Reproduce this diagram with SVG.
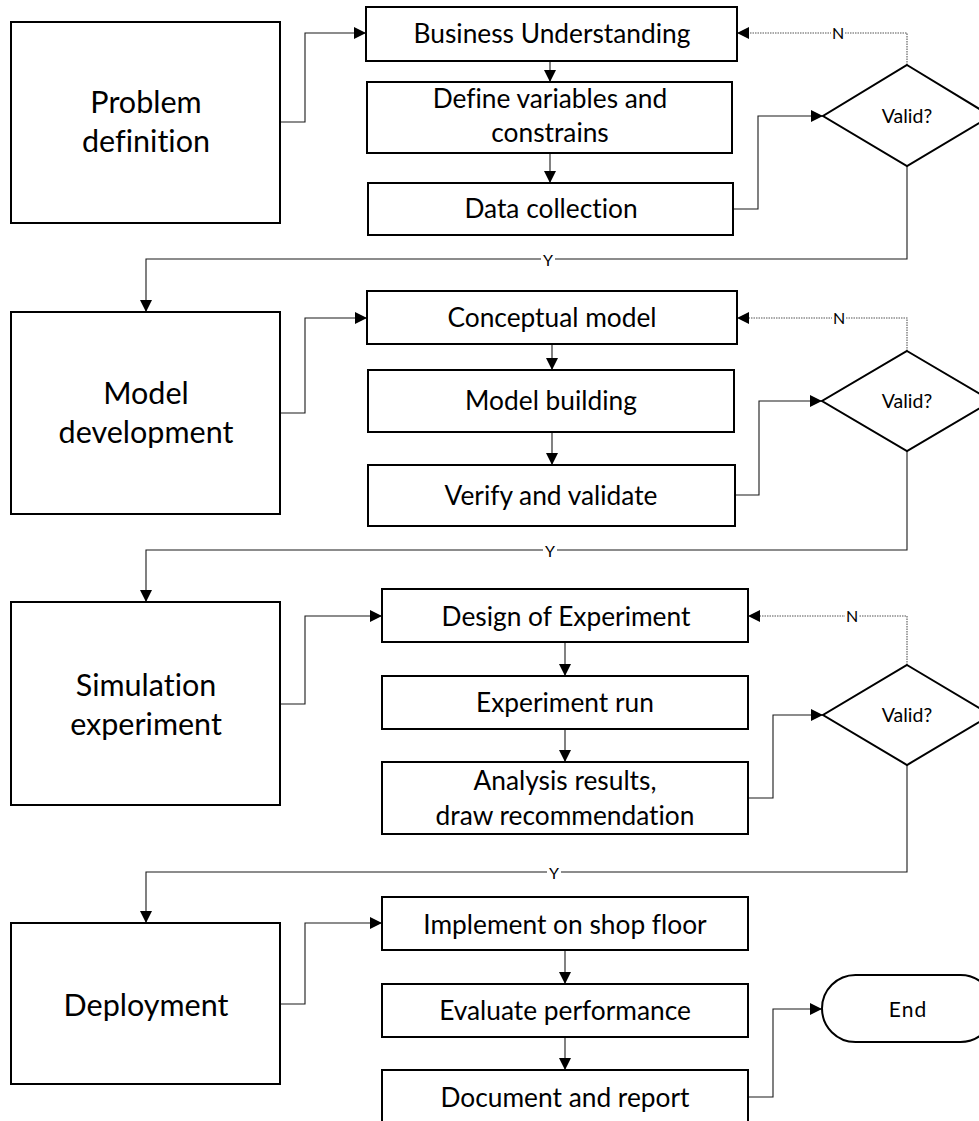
<svg xmlns="http://www.w3.org/2000/svg" width="979" height="1121" viewBox="0 0 979 1121">
  <defs>
    <marker id="arrow" markerUnits="userSpaceOnUse" markerWidth="12" markerHeight="12" refX="12" refY="6" orient="auto">
      <path d="M0,0 L12,6 L0,12 Z" fill="#000"/>
    </marker>
    <style>
      text { font-family: Lato, "Open Sans", sans-serif; fill: #000; text-anchor: middle; font-variant-ligatures: none; }
      .box { fill: #fff; stroke: #000; stroke-width: 2; }
      .stage { font-size: 30.5px; }
      .step { font-size: 26.3px; }
      .dec { font-size: 19.5px; }
      .lbl { font-size: 16px; }
      .flow { fill: none; stroke: #1a1a1a; stroke-width: 1.1; }
      .loop { fill: none; stroke: #555; stroke-width: 1.1; stroke-dasharray: 1.5 1; }
      .lblbg { fill: #fff; }
    </style>
  </defs>

  <rect width="979" height="1121" fill="#fff"/>

  <!-- connectors -->
  <g id="connectors">
    <!-- stage boxes to first steps -->
    <path class="flow" d="M280,122 H305 V33 H366" marker-end="url(#arrow)"/>
    <path class="flow" d="M280,413 H305 V318 H367" marker-end="url(#arrow)"/>
    <path class="flow" d="M280,704 H305 V616 H382" marker-end="url(#arrow)"/>
    <path class="flow" d="M280,1004 H305 V923 H382" marker-end="url(#arrow)"/>

    <!-- step to step -->
    <path class="flow" d="M550,61 V82" marker-end="url(#arrow)"/>
    <path class="flow" d="M550,153 V183" marker-end="url(#arrow)"/>
    <path class="flow" d="M552,344 V370" marker-end="url(#arrow)"/>
    <path class="flow" d="M552,432 V465" marker-end="url(#arrow)"/>
    <path class="flow" d="M565,642 V676" marker-end="url(#arrow)"/>
    <path class="flow" d="M565,729 V762" marker-end="url(#arrow)"/>
    <path class="flow" d="M565,950 V984" marker-end="url(#arrow)"/>
    <path class="flow" d="M565,1037 V1070" marker-end="url(#arrow)"/>

    <!-- last step to decision / end -->
    <path class="flow" d="M733,209 H758 V116 H823" marker-end="url(#arrow)"/>
    <path class="flow" d="M735,495 H759 V401 H822" marker-end="url(#arrow)"/>
    <path class="flow" d="M748,798 H773 V715 H823" marker-end="url(#arrow)"/>
    <path class="flow" d="M748,1097 H773 V1009 H822" marker-end="url(#arrow)"/>

    <!-- N: back to first step -->
    <path class="loop" d="M907,65 V33 H737" marker-end="url(#arrow)"/>
    <path class="loop" d="M907,351 V318 H737" marker-end="url(#arrow)"/>
    <path class="loop" d="M907,665 V616 H748" marker-end="url(#arrow)"/>

    <!-- Y: on to next stage -->
    <path class="flow" d="M907,166 V259 H146 V312" marker-end="url(#arrow)"/>
    <path class="flow" d="M907,451 V550 H146 V602" marker-end="url(#arrow)"/>
    <path class="flow" d="M907,765 V872 H146 V923" marker-end="url(#arrow)"/>

    <!-- branch labels -->
    <rect class="lblbg" x="831" y="26" width="14" height="14"/>
    <text class="lbl" x="838" y="39">N</text>
    <rect class="lblbg" x="832" y="311" width="14" height="14"/>
    <text class="lbl" x="839" y="323.5">N</text>
    <rect class="lblbg" x="845" y="609" width="14" height="14"/>
    <text class="lbl" x="852" y="621.5">N</text>
    <rect class="lblbg" x="541" y="253" width="14" height="14"/>
    <text class="lbl" x="548" y="266">Y</text>
    <rect class="lblbg" x="543" y="544" width="14" height="14"/>
    <text class="lbl" x="550" y="557">Y</text>
    <rect class="lblbg" x="547" y="866" width="14" height="14"/>
    <text class="lbl" x="554" y="879">Y</text>
  </g>

  <!-- stage 1 -->
  <g id="problem-definition">
    <rect class="box" x="11" y="22" width="269" height="201"/>
    <text class="stage" x="146" y="113">Problem</text>
    <text class="stage" x="146" y="152">definition</text>
  </g>
  <g id="business-understanding">
    <rect class="box" x="366" y="7" width="371" height="54"/>
    <text class="step" x="552" y="43">Business Understanding</text>
  </g>
  <g id="define-variables">
    <rect class="box" x="367" y="82" width="365" height="71"/>
    <text class="step" x="550" y="108">Define variables and</text>
    <text class="step" x="550" y="142">constrains</text>
  </g>
  <g id="data-collection">
    <rect class="box" x="368" y="183" width="365" height="52"/>
    <text class="step" x="551" y="217.5">Data collection</text>
  </g>
  <g id="valid-1">
    <polygon class="box" points="907,65 991,116 907,166 823,116"/>
    <text class="dec" x="907" y="122.5">Valid?</text>
  </g>

  <!-- stage 2 -->
  <g id="model-development">
    <rect class="box" x="11" y="312" width="269" height="202"/>
    <text class="stage" x="146" y="404">Model</text>
    <text class="stage" x="146" y="443">development</text>
  </g>
  <g id="conceptual-model">
    <rect class="box" x="367" y="291" width="370" height="53"/>
    <text class="step" x="552" y="327">Conceptual model</text>
  </g>
  <g id="model-building">
    <rect class="box" x="368" y="370" width="366" height="62"/>
    <text class="step" x="551" y="410">Model building</text>
  </g>
  <g id="verify-validate">
    <rect class="box" x="368" y="465" width="367" height="61"/>
    <text class="step" x="551" y="505">Verify and validate</text>
  </g>
  <g id="valid-2">
    <polygon class="box" points="907,351 992,401 907,451 822,401"/>
    <text class="dec" x="907" y="407.5">Valid?</text>
  </g>

  <!-- stage 3 -->
  <g id="simulation-experiment">
    <rect class="box" x="11" y="602" width="269" height="203"/>
    <text class="stage" x="146" y="696">Simulation</text>
    <text class="stage" x="146" y="735">experiment</text>
  </g>
  <g id="design-of-experiment">
    <rect class="box" x="382" y="589" width="366" height="53"/>
    <text class="step" x="566" y="625.5">Design of Experiment</text>
  </g>
  <g id="experiment-run">
    <rect class="box" x="382" y="676" width="366" height="53"/>
    <text class="step" x="565" y="711.5">Experiment run</text>
  </g>
  <g id="analysis-results">
    <rect class="box" x="382" y="762" width="366" height="72"/>
    <text class="step" x="565" y="790">Analysis results,</text>
    <text class="step" x="565" y="825">draw recommendation</text>
  </g>
  <g id="valid-3">
    <polygon class="box" points="907,665 991,715 907,765 823,715"/>
    <text class="dec" x="907" y="721.5">Valid?</text>
  </g>

  <!-- stage 4 -->
  <g id="deployment">
    <rect class="box" x="11" y="923" width="269" height="161"/>
    <text class="stage" x="146" y="1016">Deployment</text>
  </g>
  <g id="implement">
    <rect class="box" x="382" y="897" width="366" height="53"/>
    <text class="step" x="565" y="934">Implement on shop floor</text>
  </g>
  <g id="evaluate">
    <rect class="box" x="382" y="984" width="366" height="53"/>
    <text class="step" x="565" y="1020">Evaluate performance</text>
  </g>
  <g id="document-report">
    <rect class="box" x="382" y="1070" width="366" height="55"/>
    <text class="step" x="565" y="1107">Document and report</text>
  </g>
  <g id="end">
    <rect class="box" x="822" y="975" width="172" height="67" rx="33.5" ry="33.5"/>
    <text class="dec" x="908" y="1017" style="font-size:21px; letter-spacing:1px">End</text>
  </g>
</svg>
